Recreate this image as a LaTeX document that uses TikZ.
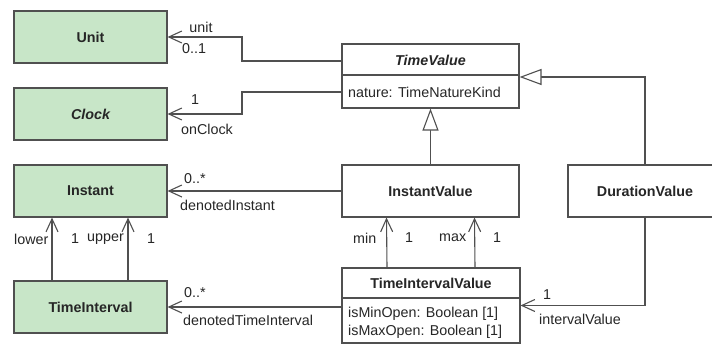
\documentclass[tikz,border=0pt]{standalone}
\usepackage{fontspec}
\setmainfont{Liberation Sans}
\usetikzlibrary{arrows.meta}
\definecolor{lc}{HTML}{505050}
\definecolor{gfill}{HTML}{C8E6C8}
\definecolor{tc}{HTML}{262626}
\begin{document}
\begin{tikzpicture}[x=1pt,y=-1pt,
  font=\fontsize{14.3}{17}\selectfont, text=tc,
  cls/.style={draw=lc, line width=1.1pt, fill=white, inner sep=0pt, anchor=center},
  ent/.style={cls, fill=gfill, minimum width=153pt, minimum height=52pt, font=\fontsize{14.3}{17}\selectfont\bfseries},
  lbl/.style={inner sep=0pt, anchor=center},
  lbll/.style={inner sep=0pt, anchor=west},
  assoc/.style={draw=lc, line width=1.1pt, -{Straight Barb[length=13pt,width=12pt,line width=1.1pt]}},
  gen/.style={draw=lc, line width=1.1pt, -{Triangle[open, length=22pt, width=16pt, fill=white, line width=1.1pt]}}]
\useasboundingbox (0,0) rectangle (712,345);
\clip (0,0) rectangle (712,345);
\fill[white] (0,0) rectangle (712,345);

% green entity boxes
\node[ent] (unit) at (90.5,37) {Unit};
\node[ent, font=\fontsize{14.3}{17}\selectfont\bfseries\itshape] (clock) at (90.5,114) {Clock};
\node[ent] (instant) at (90.5,191) {Instant};
\node[ent] (ti) at (90.5,307) {TimeInterval};

% white classes
\node[cls, minimum width=177pt, minimum height=64pt] (tv) at (430.5,76) {};
\draw[draw=lc, line width=1.1pt] ([yshift=1pt]tv.west) -- ([yshift=1pt]tv.east);
\node[lbl, font=\fontsize{14.3}{17}\selectfont\bfseries\itshape] (tvname) at (430.5,60) {TimeValue};
\node[lbll] (tvattr) at (348,92) {nature: TimeNatureKind};

\node[cls, minimum width=177pt, minimum height=52pt, font=\fontsize{14.3}{17}\selectfont\bfseries] (iv) at (430.5,191) {InstantValue};
\node[cls, minimum width=154pt, minimum height=52pt, font=\fontsize{14.3}{17}\selectfont\bfseries] (dv) at (645,191) {DurationValue};

\node[cls, minimum width=178pt, minimum height=75pt] (tiv) at (431,305.5) {};
\draw[draw=lc, line width=1.1pt] ([yshift=7.5pt]tiv.west) -- ([yshift=7.5pt]tiv.east);
\node[lbl, font=\fontsize{14.3}{17}\selectfont\bfseries] (tivname) at (431,283) {TimeIntervalValue};
\node[lbll] (tiva1) at (348,314) {isMinOpen: Boolean [1]};
\node[lbll] (tiva2) at (348,332) {isMaxOpen: Boolean [1]};

% generalizations
\draw[gen] (iv.north) -- (tv.south);
\draw[gen] (dv.north) |- ([yshift=-1pt]tv.east);

% associations
\coordinate (ub) at (242,61);
\coordinate (ut) at (242,37);
\draw[assoc] ([yshift=15pt]tv.west) -- (ub) -- (ut) -- (unit.east);
\coordinate (cb) at (242,92);
\coordinate (ct) at (242,114);
\draw[assoc] ([yshift=-16pt]tv.west) -- (cb) -- (ct) -- (clock.east);
\draw[assoc] (iv.west) -- (instant.east);
\draw[assoc] ([xshift=-38.5pt]ti.north) -- ([xshift=-38.5pt]instant.south);
\draw[assoc] ([xshift=37.5pt]ti.north) -- ([xshift=37.5pt]instant.south);
\draw[assoc] (tiv.west |- ti.east) -- (ti.east);
\draw[assoc] ([xshift=-44pt]tiv.north) -- ([xshift=-44pt]iv.south);
\draw[assoc] ([xshift=44pt]tiv.north) -- ([xshift=44pt]iv.south);
\draw[assoc] (dv.south) -- (dv.south |- tiv.east) -- (tiv.east);

% association labels
\node[lbl] (l1) at (201,27) {unit};
\node[lbll] (l2) at (182,49) {0..1};
\node[lbl] (l3) at (195,100) {1};
\node[lbl] (l4) at (207,129) {onClock};
\node[lbll] (l5) at (184,179) {0..*};
\node[lbll] (l6) at (180,205) {denotedInstant};
\node[lbll] (l7) at (14,239) {lower};
\node[lbl] (l8) at (75,239) {1};
\node[lbll] (l9) at (87,239) {upper};
\node[lbl] (l10) at (151,239) {1};
\node[lbll] (l11) at (184,293) {0..*};
\node[lbll] (l12) at (183,320) {denotedTimeInterval};
\node[lbll] (l13) at (353,238) {min};
\node[lbl] (l14) at (409,238) {1};
\node[lbll] (l15) at (439,238) {max};
\node[lbl] (l16) at (497,238) {1};
\node[lbl] (l17) at (547,295) {1};
\node[lbll] (l18) at (539,319) {intervalValue};
\end{tikzpicture}
\end{document}
